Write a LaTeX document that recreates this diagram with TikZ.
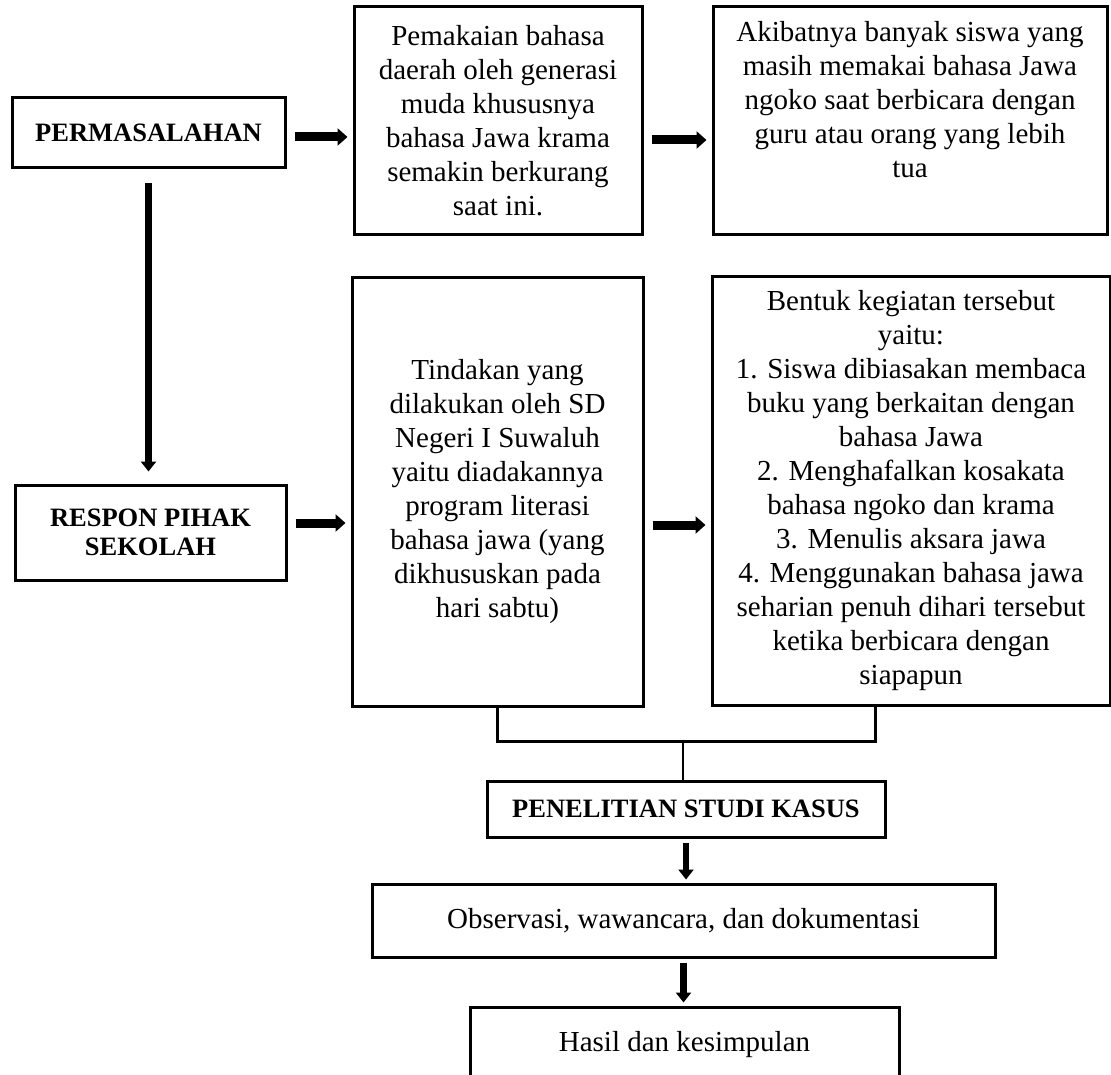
\documentclass[tikz,border=0pt]{standalone}
\usepackage{fontspec}
\setmainfont{Liberation Serif}
\usetikzlibrary{positioning,calc,arrows.meta}

\begin{document}
\begin{tikzpicture}[x=1pt,y=-1pt,
box/.style={draw,line width=3pt,align=center,inner sep=0pt,font=\fontsize{29}{34}\selectfont},
head/.style={box,font=\fontsize{26.5}{29}\selectfont\bfseries},
harr/.style={line width=9pt,-{Triangle[width=17pt,length=10pt]}},
varr/.style={line width=7pt,-{Triangle[width=15pt,length=10pt]}},
link/.style={line width=3pt}]
\useasboundingbox (0,0) rectangle (1111,1075);

\node[head,minimum width=273pt,minimum height=70pt] (perm) at (148.5,133) {PERMASALAHAN};
\node[box,minimum width=288pt,minimum height=228pt] (pakai) at (498,121)
  {Pemakaian bahasa\\daerah oleh generasi\\muda khususnya\\bahasa Jawa krama\\semakin berkurang\\saat ini.};
\node[box,minimum width=394pt,minimum height=228pt] (akibat) at (910,121) {};
\node[font=\fontsize{29}{34}\selectfont,align=center,inner sep=0pt] (akibattxt) at (910,100)
  {Akibatnya banyak siswa yang\\masih memakai bahasa Jawa\\ngoko saat berbicara dengan\\guru atau orang yang lebih\\tua};

\node[head,minimum width=271pt,minimum height=95pt] (respon) at (150.5,532.5) {RESPON PIHAK\\SEKOLAH};
\node[box,minimum width=291pt,minimum height=428pt] (tindak) at (497.5,492)
  {Tindakan yang\\dilakukan oleh SD\\Negeri I Suwaluh\\yaitu diadakannya\\program literasi\\bahasa jawa (yang\\dikhususkan pada\\hari sabtu)};
\node[box,minimum width=398pt,minimum height=428pt] (bentuk) at (911,491)
  {Bentuk kegiatan tersebut\\yaitu:\\1. Siswa dibiasakan membaca\\buku yang berkaitan dengan\\bahasa Jawa\\2. Menghafalkan kosakata\\bahasa ngoko dan krama\\3. Menulis aksara jawa\\4. Menggunakan bahasa jawa\\seharian penuh dihari tersebut\\ketika berbicara dengan\\siapapun};

\node[head,minimum width=398pt,minimum height=56pt] (studi) at (686,809) {PENELITIAN STUDI KASUS};
\node[box,minimum width=623pt,minimum height=73pt] (obs) at (683.5,920.5) {Observasi, wawancara, dan dokumentasi};
\node[box,minimum width=429pt,minimum height=75pt] (hasil) at (684.5,1044.5) {Hasil dan kesimpulan};

\foreach \a/\b/\d in {perm/pakai/4, pakai/akibat/19, respon/tindak/-9.5, tindak/bentuk/33}
  \draw[harr] ($(\a.east)+(8,\d)$) -- ($(\a.east -| \b.west)+(-5,\d)$);

\draw[varr] ($(perm.south)+(0,14)$) -- ($(perm.south |- respon.north)+(0,-12)$);

\coordinate (mid) at (683,741);
\draw[link] (tindak.south) |- (mid) -| ([xshift=-36pt]bentuk.south);
\draw[link,line width=2.5pt] (mid) -- (mid |- studi.north);

\foreach \a/\b in {studi/obs, obs/hasil}
  \draw[varr,line width=6.5pt] ($(\a.south)+(0,4)$) -- ($(\a.south |- \b.north)+(0,-3)$);
\end{tikzpicture}
\end{document}
